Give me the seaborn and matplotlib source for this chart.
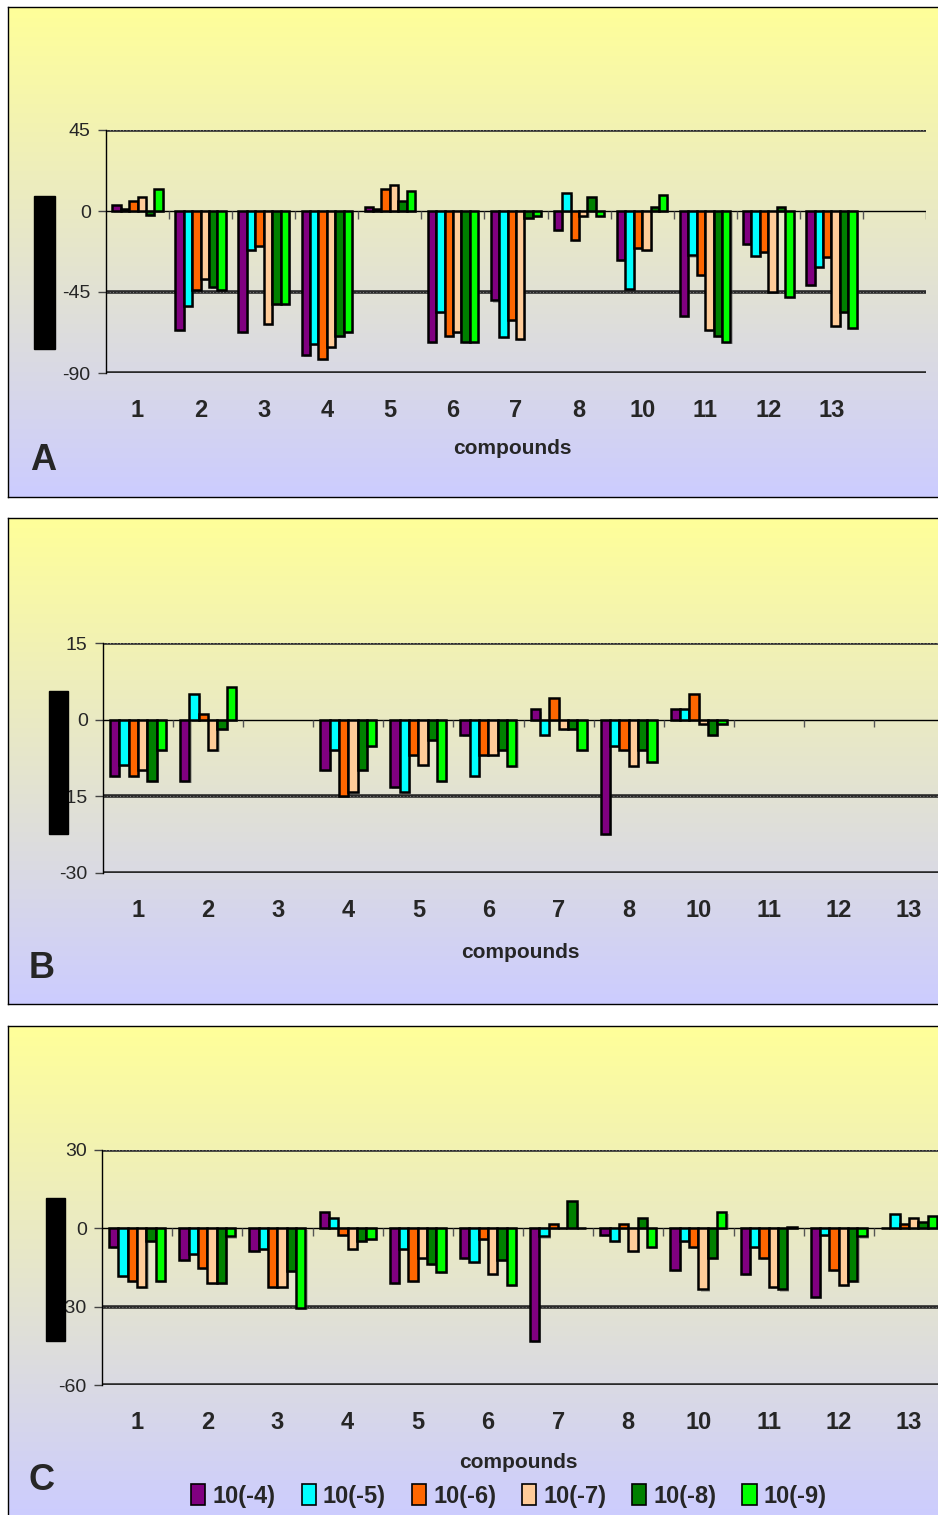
import numpy as np
import pandas as pd
import seaborn as sns
import matplotlib.pyplot as plt
from matplotlib.colors import LinearSegmentedColormap
from matplotlib.patches import Patch, Rectangle
import matplotlib.patheffects as pe

sns.set_style('white')
plt.rcParams['font.family'] = ['Liberation Sans', 'DejaVu Sans']
plt.rcParams['axes.unicode_minus'] = False

# series (concentration) and colours
concentrations = ['10(-4)', '10(-5)', '10(-6)', '10(-7)', '10(-8)', '10(-9)']
colors = ['#800080', '#00FFFF', '#FF6600', '#FFCC99', '#008000', '#00FF00']

compounds = ['1', '2', '3', '4', '5', '6', '7', '8', '10', '11', '12', '13']
slots_A = compounds + ['']   # panel A has one empty slot at the right

nan = np.nan

# panel A values (one list per concentration, in compound order)
a_4 = [3.2, -66, -67, -80, 2.2, -72.9, -49.7, -10.6, -27, -58.5, -18.4, -40.9]
a_5 = [1.3, -52.9, -21.6, -73.8, 1.3, -56.2, -70.2, 9.9, -43.2, -24.7, -24.8, -31.1]
a_6 = [5.4, -44, -19.4, -82.4, 12, -69.3, -60.3, -16.2, -20.3, -35.6, -22.5, -25.7]
a_7 = [7.6, -37.8, -63, -75.6, 14.4, -67, -71.3, -2.9, -21.6, -65.9, -45, -63.9]
a_8 = [-2.0, -42.3, -51.8, -69.3, 5.4, -72.9, -4.1, 7.6, 2.2, -69.3, 2.2, -56.2]
a_9 = [12, -44, -51.8, -67, 11, -72.9, -2.9, -2.9, 9, -72.5, -47.7, -65.2]

# panel B values
b_4 = [-11.1, -12, nan, -9.9, -13.2, -3, 2, -22.3, 2, nan, nan, nan]
b_5 = [-8.9, 5.1, nan, -5.9, -14.1, -11.1, -3, -5.2, 2, nan, nan, nan]
b_6 = [-11.1, 1.2, nan, -14.9, -6.9, -6.9, 4.2, -5.9, 5.1, nan, nan, nan]
b_7 = [-9.9, -5.9, nan, -14.1, -8.9, -6.9, -1.8, -9.1, -0.9, nan, nan, nan]
b_8 = [-12, -1.8, nan, -9.9, -4, -5.9, -1.8, -5.9, -3, nan, nan, nan]
b_9 = [-5.9, 6.3, nan, -5.2, -12, -9.1, -5.9, -8.3, -0.9, nan, nan, nan]

# panel C values
c_4 = [-7.2, -12.2, -8.8, 6.4, -20.9, -11.2, -43.3, -2.4, -15.9, -17.6, -26.4, 0]
c_5 = [-18.4, -9.7, -8, 3.9, -8, -13, -3.1, -4.7, -4.7, -7.2, -2.4, 5.6]
c_6 = [-20, -15.3, -22.4, -2.4, -20, -4, 1.5, 1.5, -7.2, -11.2, -15.9, 1.5]
c_7 = [-22.4, -20.9, -22.4, -8, -11.2, -17.6, 0, -8.8, -23.4, -22.4, -21.7, 3.9]
c_8 = [-4.7, -20.9, -16.2, -4.7, -13.6, -12.2, 10.3, 3.9, -11.2, -23.4, -20, 2.4]
c_9 = [-20, -3.1, -30.5, -4, -16.8, -21.7, 0, -7.2, 6.4, 0.5, -3.1, 4.7]

W, H = 938, 1515
fig = plt.figure(figsize=(W / 100, H / 100), dpi=100)
bg_cmap = LinearSegmentedColormap.from_list('bg', ['#FFFF99', '#CCCCFF'])


def rect(x0, y0, x1, y1):
    # pixel box (top-left origin) -> figure fraction rect
    return [x0 / W, 1 - y1 / H, (x1 - x0) / W, (y1 - y0) / H]


def to_long(series):
    rows = []
    for conc, vals in zip(concentrations, series):
        for comp, v in zip(compounds, vals):
            if not np.isnan(v):
                rows.append({'compound': comp, 'conc': conc, 'value': v})
    return pd.DataFrame(rows)


def draw_panel(series, order, ylim, yticks, box, axbox, letter, letter_xy, label_xy, blackbar):
    bg = fig.add_axes(rect(*box), zorder=0)
    bg.imshow(np.linspace(0, 1, 256).reshape(-1, 1), aspect='auto', cmap=bg_cmap, extent=[0, 1, 0, 1])
    bg.set_xticks([])
    bg.set_yticks([])
    for s in bg.spines.values():
        s.set_color('black')
        s.set_linewidth(1)

    ax = fig.add_axes(rect(*axbox), zorder=1)
    ax.set_facecolor('none')
    df = to_long(series)
    sns.barplot(data=df, x='compound', y='value', hue='conc', order=order, hue_order=concentrations,
                palette=colors, saturation=1, width=0.8, errorbar=None, legend=False, ax=ax)
    for p in ax.patches:
        p.set_edgecolor('black')
        p.set_linewidth(1.8)
        p.set_path_effects([pe.SimplePatchShadow(offset=(1.5, -1.5), shadow_rgbFace='#555555', alpha=0.35),
                            pe.Normal()])

    n = len(order)
    ax.set_xlim(-0.5, n - 0.5)
    ax.set_ylim(*ylim)
    ax.set_yticks(yticks)
    ax.set_xlabel('')
    ax.set_ylabel('')
    for t in yticks:
        if t != 0:
            ax.axhline(t, color='#2a2a2a', lw=2.6, zorder=0.5)
            ax.axhline(t, color='#9a9a9a', lw=0.6, ls=(0, (1, 3)), zorder=0.6)
    ax.axhline(0, color='black', lw=1, zorder=0.7)
    tick_len = (ylim[1] - ylim[0]) * 0.033
    ax.vlines(np.arange(1, n + 1) - 0.5, -tick_len, 0, color='#555555', lw=1, zorder=0.7)

    for s in ['top', 'right', 'bottom']:
        ax.spines[s].set_visible(False)
    ax.spines['left'].set_color('black')
    ax.spines['left'].set_linewidth(1)
    ax.tick_params(axis='y', length=6, width=1, color='#444444', direction='out', labelsize=14, pad=5, left=True)
    ax.tick_params(axis='x', length=0, pad=19, labelsize=17)
    for lbl in ax.get_xticklabels():
        lbl.set_fontweight('bold')

    fig.text(letter_xy[0] / W, 1 - letter_xy[1] / H, letter, fontsize=26, fontweight='bold',
             ha='center', va='center')
    fig.text(label_xy[0] / W, 1 - label_xy[1] / H, 'compounds', fontsize=15, fontweight='bold',
             ha='center', va='center')
    x0, y0, x1, y1 = blackbar
    fig.add_artist(Rectangle((x0 / W, 1 - y1 / H), (x1 - x0) / W, (y1 - y0) / H,
                             transform=fig.transFigure, color='black', zorder=5))
    return ax


draw_panel([a_4, a_5, a_6, a_7, a_8, a_9], slots_A, (-90, 45), [45, 0, -45, -90],
           (8, 7, 945, 497), (106, 130, 926, 373), 'A', (43, 460), (512, 448), (34, 196, 55, 349))
draw_panel([b_4, b_5, b_6, b_7, b_8, b_9], compounds, (-30, 15), [15, 0, -15, -30],
           (8, 518, 945, 1004), (103, 643, 944, 873), 'B', (42, 968), (520, 952), (49, 691, 68, 834))
draw_panel([c_4, c_5, c_6, c_7, c_8, c_9], compounds, (-60, 30), [30, 0, -30, -60],
           (8, 1026, 945, 1520), (102, 1150, 944, 1385), 'C', (42, 1480), (518, 1463), (46, 1198, 65, 1341))

handles = [Patch(facecolor=c, edgecolor='black', linewidth=1.2) for c in colors]
fig.legend(handles, concentrations, loc='center', bbox_to_anchor=(509 / W, 1 - 1496 / H), ncol=6,
           frameon=False, handlelength=0.6, handleheight=1.0, handletextpad=0.3, columnspacing=1.1,
           prop={'weight': 'bold', 'size': 17})

fig.savefig('out.png', dpi=100)
